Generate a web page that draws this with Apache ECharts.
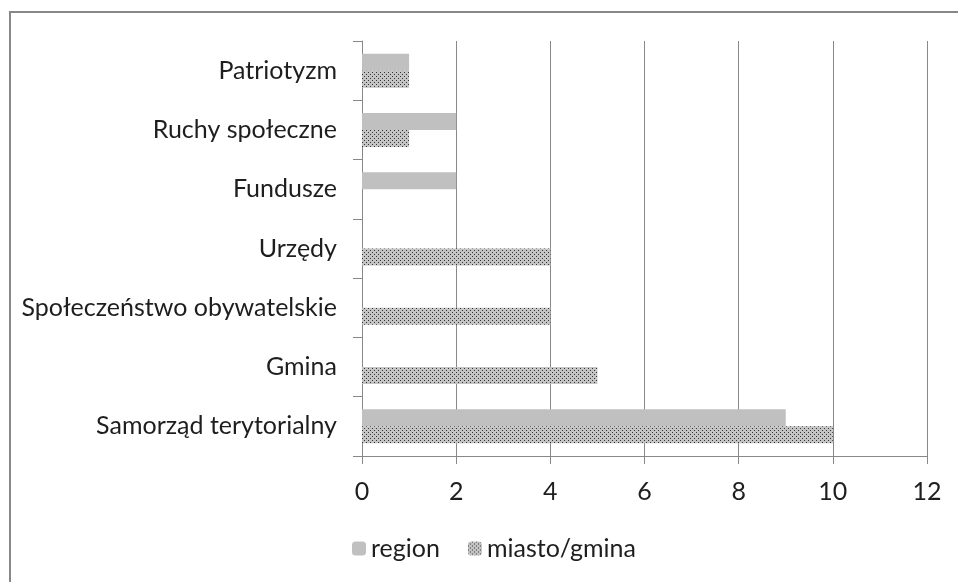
<!DOCTYPE html>
<html>
<head>
    <meta charset="utf-8" />
    <title>Wykres</title>
    <script src="https://cdn.jsdelivr.net/npm/echarts@6/dist/echarts.min.js"></script>
    <style>
        html, body { margin: 0; padding: 0; background: #fff; }
        #main { width: 958px; height: 582px; }
    </style>
</head>
<body>
    <div id="main"></div>
    <script type="text/javascript">
        // categories listed from bottom to top
        var categories = ['Samorząd terytorialny', 'Gmina', 'Społeczeństwo obywatelskie', 'Urzędy', 'Fundusze', 'Ruchy społeczne', 'Patriotyzm'];
        var regionValues = [9, null, null, null, 2, 2, 1];
        var miastoValues = [10, 5, 4, 4, null, 1, 1];
        var seriesNames = ['region', 'miasto/gmina'];

        // dotted fill for the second series
        var pat = document.createElement('canvas');
        pat.width = 4;
        pat.height = 4;
        var ctx = pat.getContext('2d');
        ctx.fillStyle = '#c4c4c4';
        ctx.fillRect(0, 0, 4, 4);
        ctx.fillStyle = '#333';
        ctx.fillRect(0, 0, 1, 1);
        ctx.fillRect(2, 2, 1, 1);

        var font = 'Lato, "Open Sans", sans-serif';
        var myChart = echarts.init(document.getElementById('main'));
        myChart.setOption({
            animation: false,
            backgroundColor: '#fff',
            graphic: [{
                type: 'rect',
                shape: { x: 10, y: 12, width: 1000, height: 700 },
                style: { fill: 'none', stroke: '#888', lineWidth: 2 }
            }],
            grid: { left: 362, right: 31, top: 41, bottom: 126 },
            legend: {
                data: seriesNames,
                top: 531,
                left: 347,
                itemWidth: 14,
                itemHeight: 14,
                itemGap: 28,
                textStyle: { fontFamily: font, fontSize: 25, color: '#1e1e1e' }
            },
            xAxis: {
                type: 'value',
                min: 0,
                max: 12,
                interval: 2,
                axisLine: { show: true, lineStyle: { color: '#888' } },
                axisTick: { show: true, length: 8, lineStyle: { color: '#888' } },
                splitLine: { show: true, lineStyle: { color: '#888' } },
                axisLabel: { margin: 23, fontFamily: font, fontSize: 25, color: '#1e1e1e' }
            },
            yAxis: {
                type: 'category',
                data: categories,
                axisLine: { lineStyle: { color: '#888' } },
                axisTick: { show: true, length: 9, lineStyle: { color: '#888' } },
                axisLabel: { margin: 25, fontFamily: font, fontSize: 25, color: '#1e1e1e' }
            },
            series: [
                {
                    name: seriesNames[0],
                    type: 'bar',
                    data: regionValues,
                    barWidth: 17,
                    barGap: '0%',
                    itemStyle: { color: '#c0c0c0' }
                },
                {
                    name: seriesNames[1],
                    type: 'bar',
                    data: miastoValues,
                    barWidth: 17,
                    barGap: '0%',
                    itemStyle: { color: { image: pat, repeat: 'repeat' } }
                }
            ]
        });
    </script>
</body>
</html>
